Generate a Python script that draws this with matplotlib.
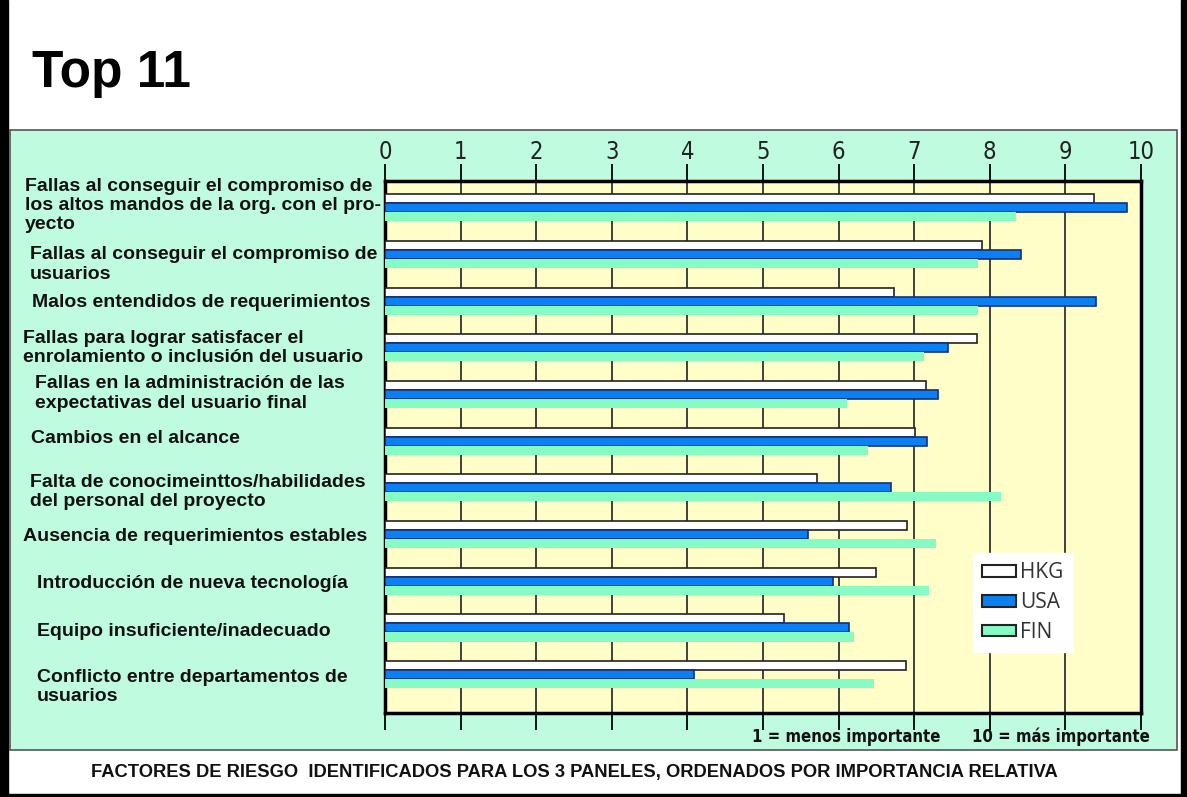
import numpy as np
import matplotlib
matplotlib.use("Agg")
import matplotlib.pyplot as plt
from matplotlib.patches import Rectangle
from matplotlib import transforms

# risk factors, top to bottom
factors = [
    "Fallas al conseguir el compromiso de\nlos altos mandos de la org. con el pro-\nyecto",
    "Fallas al conseguir el compromiso de\nusuarios",
    "Malos entendidos de requerimientos",
    "Fallas para lograr satisfacer el\nenrolamiento o inclusión del usuario",
    "Fallas en la administración de las\nexpectativas del usuario final",
    "Cambios en el alcance",
    "Falta de conocimeinttos/habilidades\ndel personal del proyecto",
    "Ausencia de requerimientos estables",
    "Introducción de nueva tecnología",
    "Equipo insuficiente/inadecuado",
    "Conflicto entre departamentos de\nusuarios",
]
hkg = [9.38, 7.90, 6.73, 7.83, 7.15, 7.01, 5.72, 6.91, 6.49, 5.28, 6.89]
usa = [9.81, 8.41, 9.41, 7.45, 7.31, 7.17, 6.69, 5.59, 5.92, 6.14, 4.09]
fin = [8.35, 7.85, 7.85, 7.13, 6.11, 6.39, 8.15, 7.29, 7.20, 6.21, 6.47]
series_names = ["HKG", "USA", "FIN"]
xticks = list(range(0, 11))

W, H = 1187, 797
fig = plt.figure(figsize=(W / 100, H / 100), dpi=100)
fig.patch.set_facecolor("white")

# frame pieces around the slide
fig.add_artist(Rectangle((0, 0), 8 / W, 1, transform=fig.transFigure, color="black", zorder=0))
fig.add_artist(Rectangle((1 - 6 / W, 0), 6 / W, 1, transform=fig.transFigure, color="black", zorder=0))
fig.add_artist(Rectangle((0, 0), 1, 3 / H, transform=fig.transFigure, color="black", zorder=0))
# mint panel
fig.add_artist(Rectangle((10 / W, 1 - 750 / H), 1167 / W, 620 / H, transform=fig.transFigure,
                         facecolor="#bffbdf", edgecolor="#555555", lw=1.2, zorder=0))

fig.text(32 / W, 1 - 74 / H, "Top 11", fontsize=37, fontweight="bold",
         family="Liberation Sans", va="center", ha="left")

ax = fig.add_axes([385 / W, 1 - 713 / H, 756 / W, 532 / H])
ax.set_facecolor("#fffdc8")

y = np.arange(len(factors))
h = 0.193
ax.barh(y - h, hkg, height=h, color="white", edgecolor="#222222", lw=1.2, zorder=3)
ax.barh(y, usa, height=h, color="#0a80f2", edgecolor="#15307a", lw=1.2, zorder=3)
ax.barh(y + h, fin, height=h, color="#86fcc4", lw=0, zorder=3)

ax.set_xlim(0, 10)
ax.set_ylim(len(factors) - 1 + 0.82, -0.57)
ax.set_xticks(xticks)
ax.set_yticks([])
for v in xticks[1:-1]:
    ax.axvline(v, color="#333333", lw=1.3, zorder=1)
for s in ax.spines.values():
    s.set_linewidth(2.5)
ax.tick_params(axis="x", which="both", top=True, bottom=True, labeltop=True, labelbottom=False,
               direction="out", length=12, width=1.3, labelsize=17, pad=0.5, labelcolor="#222222")
for t in ax.get_xticklabels():
    t.set_family("DejaVu Sans")
    t.set_stretch("condensed")

# category labels on the left
label_x = [25, 30, 32, 23, 35, 31, 30, 23, 37, 37, 37]
label_dy = [-2, 10, 1, 0, -1, -3, 4, 2, 2, 4, 12]
blend = transforms.blended_transform_factory(fig.transFigure, ax.transData)
px = 532 / (len(factors) - 1 + 0.82 + 0.57)
for i, lab in enumerate(factors):
    ax.text(label_x[i] / W, i + label_dy[i] / px, lab, transform=blend, ha="left", va="center",
            fontsize=14, fontweight="bold", family="Liberation Sans", color="#111111",
            linespacing=1.18, clip_on=False)

# legend
handles = [Rectangle((0, 0), 1, 1, facecolor=c, edgecolor="#222222", lw=1.5)
           for c in ["white", "#0a80f2", "#86fcc4"]]
leg = fig.legend(handles, series_names, loc="upper left",
                 bbox_to_anchor=(973 / W, 1 - 553 / H), bbox_transform=fig.transFigure,
                 frameon=True, fancybox=False, framealpha=1, edgecolor="white",
                 prop={"family": "Open Sans", "size": 15}, handlelength=1.6, handleheight=0.5,
                 handletextpad=0.2, labelspacing=0.42, borderpad=0.45, borderaxespad=0)
for t in leg.get_texts():
    t.set_color("#333333")

fig.text(1150 / W, 1 - 737 / H, "1 = menos importante      10 = más importante",
         ha="right", va="center", fontsize=12, fontweight="bold",
         family="DejaVu Sans", fontstretch="condensed", color="#111111")
fig.text(574 / W, 1 - 772 / H,
         "FACTORES DE RIESGO  IDENTIFICADOS PARA LOS 3 PANELES, ORDENADOS POR IMPORTANCIA RELATIVA",
         ha="center", va="center", fontsize=13.2, fontweight="bold", family="Liberation Sans",
         color="#111111")

fig.savefig("out.png", dpi=100)
